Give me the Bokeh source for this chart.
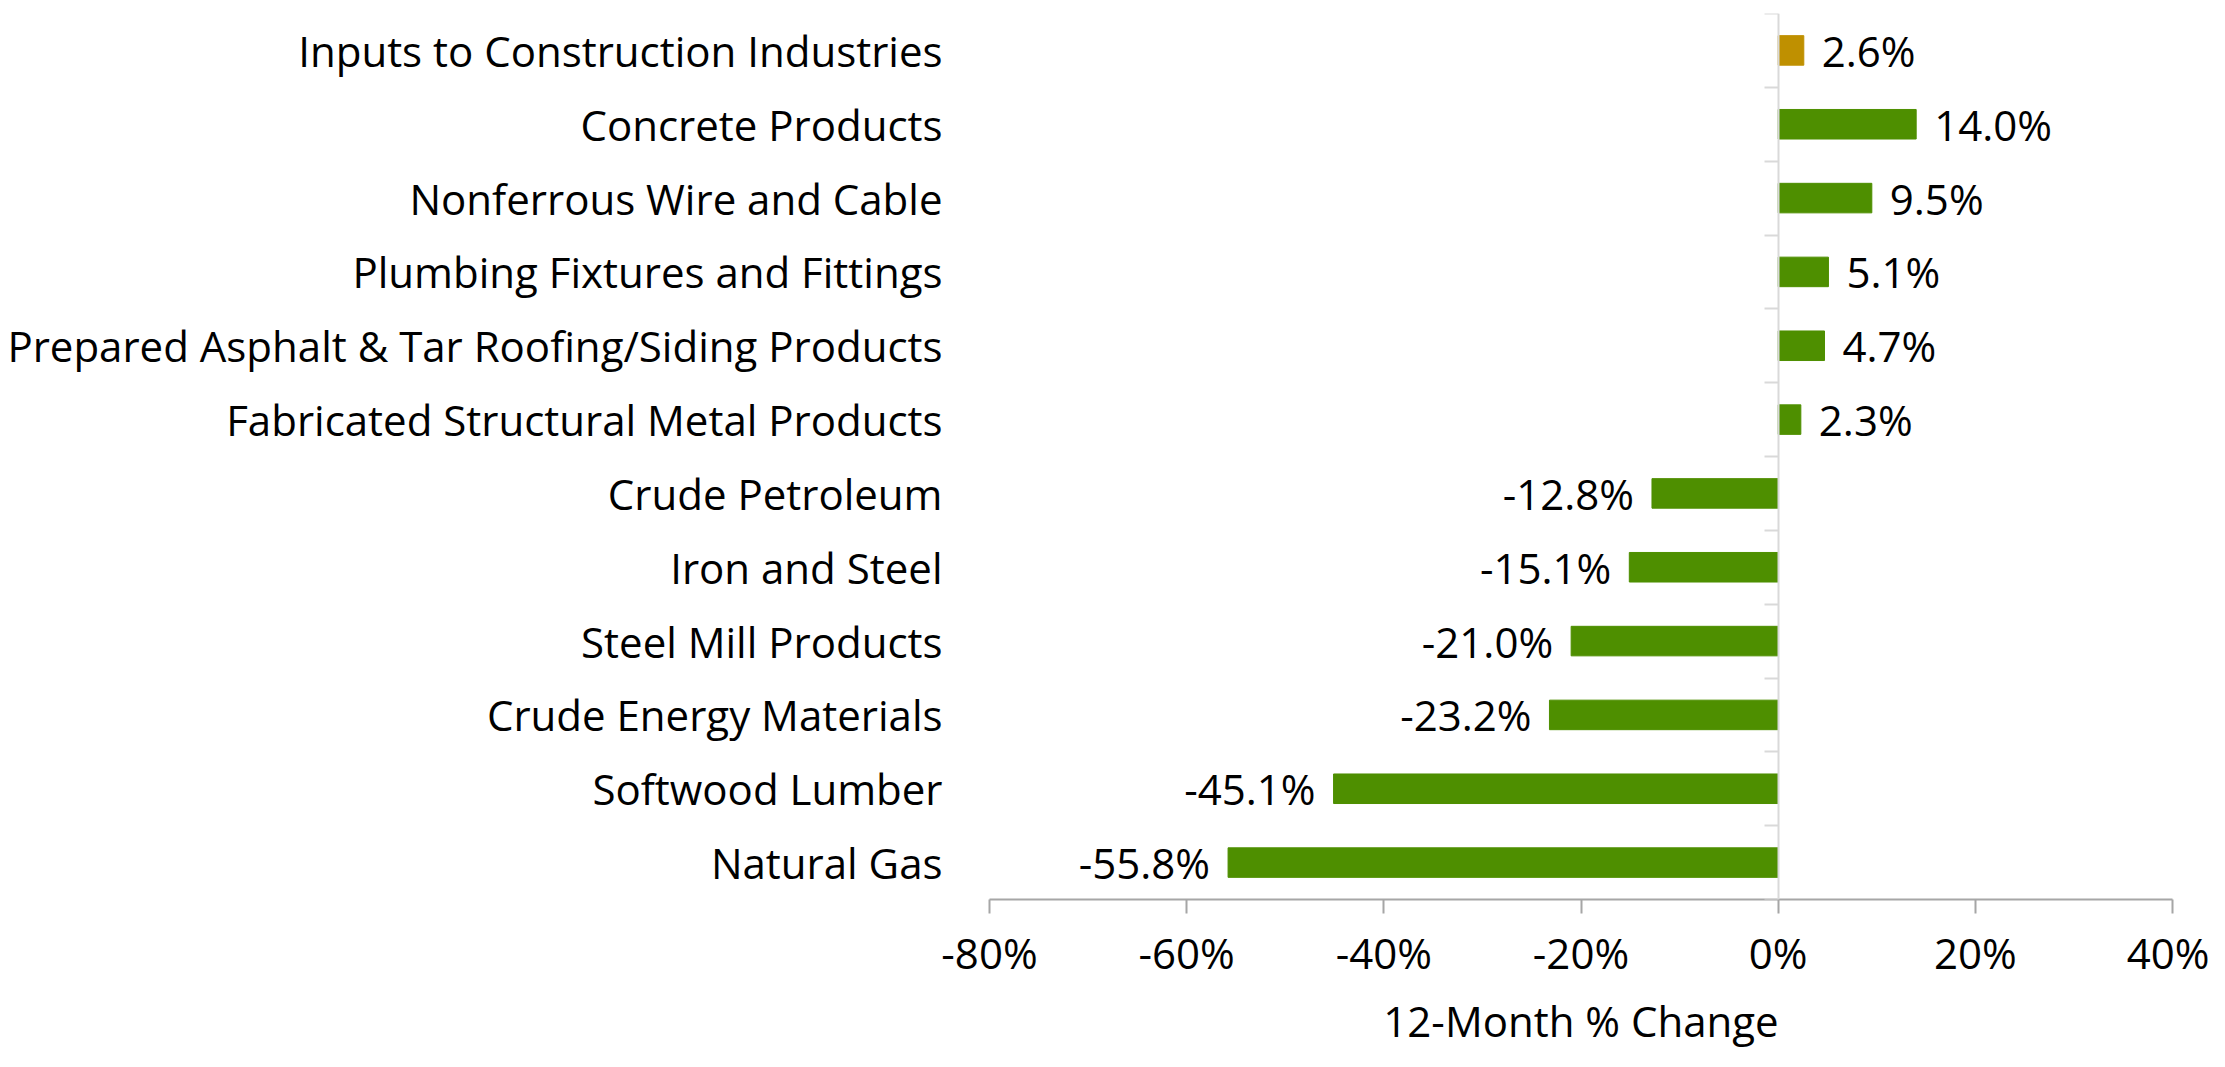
from bokeh.plotting import figure
from bokeh.models import (ColumnDataSource, Range1d, LinearAxis, FixedTicker,
                          PrintfTickFormatter)
from bokeh.core.properties import value
from bokeh.embed import file_html
from bokeh.resources import INLINE

# ---- data (top to bottom) ----
categories = [
    "Inputs to Construction Industries",
    "Concrete Products",
    "Nonferrous Wire and Cable",
    "Plumbing Fixtures and Fittings",
    "Prepared Asphalt & Tar Roofing/Siding Products",
    "Fabricated Structural Metal Products",
    "Crude Petroleum",
    "Iron and Steel",
    "Steel Mill Products",
    "Crude Energy Materials",
    "Softwood Lumber",
    "Natural Gas",
]
changes = [2.6, 14.0, 9.5, 5.1, 4.7, 2.3, -12.8, -15.1, -21.0, -23.2, -45.1, -55.8]
x_ticks = [-80, -60, -40, -20, 0, 20, 40]
axis_title = "12-Month % Change"

FONT = "Open Sans"
FS = "42px"
GREEN = "#4E8F00"
GOLD = "#BF9000"

n = len(categories)
centers = [n - i - 0.5 for i in range(n)]
colors = [GOLD if i == 0 else GREEN for i in range(n)]
labels = [f"{v:.1f}%" for v in changes]
aligns = ["left" if v >= 0 else "right" for v in changes]
offsets = [18 if v >= 0 else -18 for v in changes]

src = ColumnDataSource(dict(y=centers, v=changes, color=colors, label=labels,
                            align=aligns, off=offsets))

p = figure(width=2209, height=1051, output_backend="svg", toolbar_location=None,
           x_range=Range1d(-80, 40), y_range=Range1d(0, n),
           min_border_left=989, min_border_right=37, min_border_top=13,
           min_border_bottom=151, y_axis_location=None, x_axis_location=None)
p.outline_line_color = None
p.xgrid.visible = False
p.ygrid.visible = False
p.background_fill_color = "white"

# category labels axis (left, no line / ticks)
yax = LinearAxis(ticker=FixedTicker(ticks=centers),
                 major_label_overrides={c: name for c, name in zip(centers, categories)})
yax.axis_line_color = None
yax.major_tick_line_color = None
yax.minor_tick_line_color = None
yax.major_label_standoff = 41
yax.major_label_text_font = FONT
yax.major_label_text_font_size = FS
yax.major_label_text_color = "black"
p.add_layout(yax, "left")

# vertical axis line at x=0 with ticks at category boundaries
bax = LinearAxis(ticker=FixedTicker(ticks=list(range(n + 1))), fixed_location=0,
                 major_label_overrides={i: "" for i in range(n + 1)})
bax.axis_line_color = "#D9D9D9"
bax.axis_line_width = 2
bax.major_tick_line_color = "#D9D9D9"
bax.major_tick_line_width = 2
bax.major_tick_in = 14
bax.major_tick_out = 0
bax.minor_tick_line_color = None
bax.major_label_text_font_size = "1px"
p.add_layout(bax, "right")

# x axis
xax = LinearAxis(ticker=FixedTicker(ticks=x_ticks),
                 formatter=PrintfTickFormatter(format="%d%%"),
                 axis_label=axis_title)
xax.axis_line_color = "#A6A6A6"
xax.axis_line_width = 2
xax.major_tick_line_color = "#A6A6A6"
xax.major_tick_line_width = 2
xax.major_tick_out = 14
xax.major_tick_in = 0
xax.minor_tick_line_color = None
xax.major_label_standoff = 10
xax.major_label_text_font = FONT
xax.major_label_text_font_size = FS
xax.major_label_text_color = "black"
xax.axis_label_standoff = 8
xax.axis_label_text_font = FONT
xax.axis_label_text_font_size = FS
xax.axis_label_text_font_style = "normal"
xax.axis_label_text_color = "black"
p.add_layout(xax, "below")

p.hbar(y="y", left=0, right="v", height=0.4, fill_color="color",
       line_color="color", source=src)

p.text(x="v", y="y", text="label", text_align="align", x_offset="off",
       text_baseline="middle", text_font=value(FONT), text_font_size=FS,
       text_color="black", source=src)

open("out.html", "w").write(file_html(p, INLINE))
